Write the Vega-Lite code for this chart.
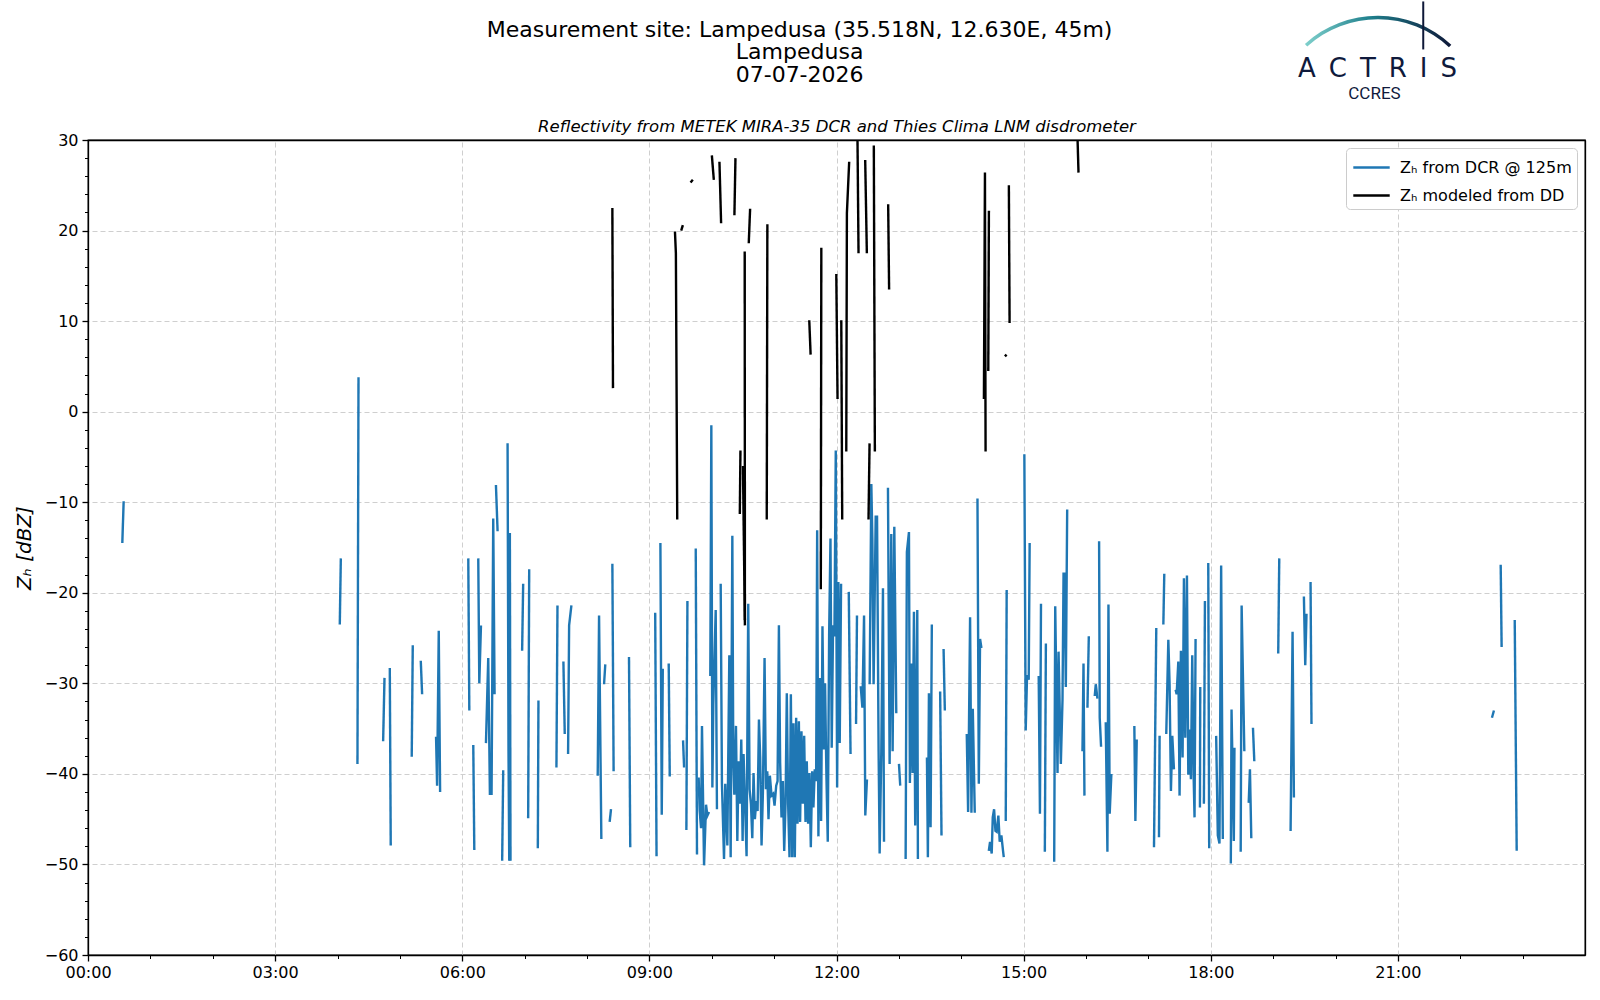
{
"$schema": "https://vega.github.io/schema/vega-lite/v6.json",
"width": 1497, "height": 815,
"autosize": {"type": "none"},
"padding": {"left": 88, "top": 140, "right": 15, "bottom": 45},
"background": "white",
"config": {
  "font": "DejaVu Sans",
  "view": {"stroke": "black", "strokeWidth": 1.3},
  "axis": {"labelFontSize": 16, "labelColor": "black", "labelFlush": false, "tickColor": "black", "domainColor": "black", "tickWidth": 1.3, "domainWidth": 1.3, "gridColor": "#cfcfcf", "gridDash": [5, 3], "gridWidth": 1, "titleColor": "black", "titleFontWeight": "normal"}
},
"title": {"text": ["Measurement site: Lampedusa (35.518N, 12.630E, 45m)", "Lampedusa", "07-07-2026"], "fontSize": 22, "fontWeight": "normal", "font": "DejaVu Sans", "color": "black", "lineHeight": 22.5, "anchor": "middle", "frame": "bounds", "offset": -86.5},
"datasets": {
"dcr": [
{"s":1,"t":33.0,"z":-14.5},{"s":1,"t":34.3,"z":-9.9},
{"s":2,"t":242.2,"z":-23.5},{"s":2,"t":243.2,"z":-16.2},
{"s":3,"t":259.2,"z":-38.9},{"s":3,"t":260.2,"z":3.8},
{"s":4,"t":283.9,"z":-36.4},{"s":4,"t":285.2,"z":-29.4},
{"s":5,"t":290.3,"z":-28.3},{"s":5,"t":291.2,"z":-47.9},
{"s":6,"t":311.4,"z":-38.1},{"s":6,"t":312.4,"z":-25.8},
{"s":7,"t":320.1,"z":-27.5},{"s":7,"t":321.4,"z":-31.2},
{"s":8,"t":334.8,"z":-35.9},{"s":8,"t":335.8,"z":-41.3},{"s":8,"t":337.4,"z":-24.2},{"s":8,"t":338.7,"z":-42.0},
{"s":9,"t":365.8,"z":-16.2},{"s":9,"t":366.8,"z":-33.0},
{"s":10,"t":370.6,"z":-36.8},{"s":10,"t":371.6,"z":-48.4},
{"s":11,"t":375.4,"z":-16.2},{"s":11,"t":376.4,"z":-30.0},{"s":11,"t":378.0,"z":-23.6},
{"s":12,"t":382.8,"z":-36.6},{"s":12,"t":385.0,"z":-27.2},{"s":12,"t":386.6,"z":-42.2},{"s":12,"t":388.2,"z":-42.2},{"s":12,"t":389.8,"z":-11.8},{"s":12,"t":391.1,"z":-31.2},
{"s":13,"t":392.4,"z":-8.1},{"s":13,"t":394.0,"z":-13.2},
{"s":14,"t":398.4,"z":-49.6},{"s":14,"t":399.4,"z":-39.6},
{"s":15,"t":403.6,"z":-3.5},{"s":15,"t":404.5,"z":-37.5},{"s":15,"t":405.2,"z":-49.6},
{"s":16,"t":405.8,"z":-13.4},{"s":16,"t":406.4,"z":-49.6},
{"s":17,"t":417.6,"z":-26.4},{"s":17,"t":418.6,"z":-19.0},
{"s":18,"t":423.4,"z":-44.9},{"s":18,"t":424.4,"z":-17.4},
{"s":19,"t":432.7,"z":-48.2},{"s":19,"t":433.3,"z":-31.9},
{"s":20,"t":450.6,"z":-39.3},{"s":20,"t":451.6,"z":-21.4},
{"s":21,"t":457.3,"z":-27.6},{"s":21,"t":458.6,"z":-35.6},
{"s":22,"t":461.8,"z":-37.8},{"s":22,"t":462.8,"z":-23.6},{"s":22,"t":465.0,"z":-21.4},
{"s":23,"t":490.3,"z":-40.2},{"s":23,"t":491.6,"z":-22.5},{"s":23,"t":493.8,"z":-47.2},
{"s":24,"t":496.4,"z":-30.1},{"s":24,"t":497.6,"z":-27.9},
{"s":25,"t":501.8,"z":-45.3},{"s":25,"t":503.1,"z":-43.9},
{"s":26,"t":504.4,"z":-16.8},{"s":26,"t":505.6,"z":-39.7},
{"s":27,"t":520.4,"z":-27.1},{"s":27,"t":521.6,"z":-48.1},
{"s":28,"t":545.6,"z":-22.2},{"s":28,"t":546.9,"z":-49.1},
{"s":29,"t":550.6,"z":-14.5},{"s":29,"t":551.9,"z":-44.5},{"s":29,"t":552.9,"z":-28.4},
{"s":30,"t":558.6,"z":-27.8},{"s":30,"t":559.6,"z":-40.3},
{"s":31,"t":572.4,"z":-36.3},{"s":31,"t":573.4,"z":-39.3},
{"s":32,"t":575.6,"z":-46.2},{"s":32,"t":576.6,"z":-20.9},
{"s":33,"t":584.6,"z":-15.1},{"s":33,"t":585.8,"z":-48.9},
{"s":34,"t":587.4,"z":-40.4},{"s":34,"t":588.4,"z":-44.1},{"s":34,"t":589.7,"z":-46.0},{"s":34,"t":590.6,"z":-34.7},{"s":34,"t":592.6,"z":-50.1},{"s":34,"t":594.5,"z":-43.4},{"s":34,"t":595.8,"z":-44.6},{"s":34,"t":597.4,"z":-44.2},
{"s":35,"t":598.6,"z":-29.2},{"s":35,"t":599.6,"z":-1.5},{"s":35,"t":600.6,"z":-41.5},{"s":35,"t":601.5,"z":-32.3},{"s":35,"t":603.8,"z":-21.9},{"s":35,"t":605.0,"z":-43.9},
{"s":36,"t":608.6,"z":-19.0},{"s":36,"t":609.8,"z":-41.1},{"s":36,"t":611.8,"z":-49.4},{"s":36,"t":613.0,"z":-41.1},{"s":36,"t":615.0,"z":-47.9},{"s":36,"t":616.9,"z":-26.9},{"s":36,"t":618.2,"z":-49.2},{"s":36,"t":619.8,"z":-13.7},{"s":36,"t":620.7,"z":-38.2},{"s":36,"t":621.7,"z":-42.3},{"s":36,"t":623.3,"z":-34.7},{"s":36,"t":624.6,"z":-47.4},{"s":36,"t":625.8,"z":-38.6},{"s":36,"t":627.1,"z":-43.3},{"s":36,"t":628.4,"z":-36.2},{"s":36,"t":629.7,"z":-47.4},{"s":36,"t":630.6,"z":-37.8},{"s":36,"t":632.2,"z":-43.9},{"s":36,"t":633.5,"z":-49.1},{"s":36,"t":635.1,"z":-21.2},{"s":36,"t":636.4,"z":-41.7},{"s":36,"t":637.7,"z":-43.3},{"s":36,"t":639.0,"z":-47.1},{"s":36,"t":640.2,"z":-39.9},{"s":36,"t":641.5,"z":-45.0},{"s":36,"t":642.8,"z":-43.0},{"s":36,"t":644.1,"z":-44.1},{"s":36,"t":645.4,"z":-34.0},{"s":36,"t":646.6,"z":-38.2},{"s":36,"t":647.9,"z":-47.9},{"s":36,"t":649.2,"z":-42.1},{"s":36,"t":650.8,"z":-27.2},{"s":36,"t":652.1,"z":-41.7},{"s":36,"t":653.4,"z":-39.7},{"s":36,"t":654.6,"z":-45.0},{"s":36,"t":655.9,"z":-40.2},{"s":36,"t":657.5,"z":-42.4},{"s":36,"t":659.1,"z":-42.2},{"s":36,"t":660.4,"z":-43.5},{"s":36,"t":662.0,"z":-41.3},{"s":36,"t":663.3,"z":-40.8},{"s":36,"t":664.6,"z":-23.6},{"s":36,"t":665.8,"z":-38.8},{"s":36,"t":667.1,"z":-44.8},{"s":36,"t":668.4,"z":-40.8},{"s":36,"t":669.7,"z":-48.5},{"s":36,"t":671.0,"z":-43.2},{"s":36,"t":672.2,"z":-31.1},{"s":36,"t":673.5,"z":-43.4},{"s":36,"t":674.8,"z":-49.2},{"s":36,"t":676.1,"z":-31.2},{"s":36,"t":677.4,"z":-49.2},{"s":36,"t":678.6,"z":-34.4},{"s":36,"t":679.9,"z":-49.2},{"s":36,"t":681.2,"z":-33.8},{"s":36,"t":682.5,"z":-45.5},{"s":36,"t":683.8,"z":-34.2},{"s":36,"t":685.0,"z":-45.3},{"s":36,"t":686.3,"z":-35.3},{"s":36,"t":687.6,"z":-43.3},{"s":36,"t":688.9,"z":-35.8},{"s":36,"t":690.2,"z":-45.3},{"s":36,"t":691.4,"z":-38.6},{"s":36,"t":692.7,"z":-45.5},{"s":36,"t":694.0,"z":-39.9},{"s":36,"t":695.3,"z":-48.1},{"s":36,"t":696.6,"z":-39.7},{"s":36,"t":697.8,"z":-43.7},{"s":36,"t":699.1,"z":-39.5},{"s":36,"t":700.4,"z":-40.8},{"s":36,"t":701.4,"z":-13.1},{"s":36,"t":702.6,"z":-46.9},{"s":36,"t":703.9,"z":-29.4},{"s":36,"t":705.2,"z":-45.2},{"s":36,"t":706.5,"z":-23.7},{"s":36,"t":707.8,"z":-37.3},{"s":36,"t":709.0,"z":-30.0},{"s":36,"t":710.3,"z":-40.2},{"s":36,"t":711.6,"z":-47.5},{"s":36,"t":712.9,"z":-24.7},{"s":36,"t":714.2,"z":-14.0},{"s":36,"t":715.4,"z":-37.1},{"s":36,"t":716.7,"z":-23.6},{"s":36,"t":718.0,"z":-24.8},{"s":36,"t":719.3,"z":-4.3},{"s":36,"t":720.6,"z":-41.5},{"s":36,"t":721.8,"z":-18.8},{"s":36,"t":723.1,"z":-36.6},{"s":36,"t":724.4,"z":-19.0},
{"s":37,"t":731.8,"z":-19.9},{"s":37,"t":733.5,"z":-37.8},
{"s":38,"t":738.8,"z":-34.5},{"s":38,"t":739.7,"z":-22.5},
{"s":39,"t":743.3,"z":-30.3},{"s":39,"t":744.9,"z":-32.7},{"s":39,"t":746.5,"z":-22.5},{"s":39,"t":747.7,"z":-44.6},{"s":39,"t":749.3,"z":-40.6},
{"s":40,"t":751.9,"z":-30.1},{"s":40,"t":753.5,"z":-8.0},{"s":40,"t":754.5,"z":-14.0},{"s":40,"t":755.7,"z":-30.1},{"s":40,"t":757.7,"z":-11.6},{"s":40,"t":759.0,"z":-11.6},{"s":40,"t":760.5,"z":-37.5},{"s":40,"t":761.5,"z":-48.8},{"s":40,"t":763.1,"z":-37.5},{"s":40,"t":764.7,"z":-19.5},{"s":40,"t":765.7,"z":-47.5},
{"s":41,"t":769.5,"z":-8.4},{"s":41,"t":771.1,"z":-38.9},{"s":41,"t":772.7,"z":-13.5},{"s":41,"t":774.0,"z":-37.5},{"s":41,"t":775.6,"z":-12.7},{"s":41,"t":777.5,"z":-33.3},
{"s":42,"t":780.1,"z":-38.9},{"s":42,"t":781.3,"z":-41.3},
{"s":43,"t":786.5,"z":-49.4},{"s":43,"t":787.7,"z":-15.5},{"s":43,"t":789.7,"z":-13.3},{"s":43,"t":790.6,"z":-41.0},{"s":43,"t":791.9,"z":-27.8},{"s":43,"t":793.2,"z":-39.9},{"s":43,"t":794.5,"z":-22.1},{"s":43,"t":795.7,"z":-45.7},{"s":43,"t":797.7,"z":-21.9},{"s":43,"t":798.3,"z":-49.4},
{"s":44,"t":807.0,"z":-38.2},{"s":44,"t":807.9,"z":-49.2},{"s":44,"t":808.9,"z":-31.1},{"s":44,"t":810.5,"z":-45.9},{"s":44,"t":811.7,"z":-23.5},
{"s":45,"t":819.7,"z":-30.9},{"s":45,"t":821.0,"z":-46.8},
{"s":46,"t":823.0,"z":-26.2},{"s":46,"t":824.2,"z":-33.0},
{"s":47,"t":845.3,"z":-35.6},{"s":47,"t":846.6,"z":-44.2},{"s":47,"t":848.5,"z":-22.7},{"s":47,"t":849.8,"z":-44.3},{"s":47,"t":851.1,"z":-32.8},{"s":47,"t":853.0,"z":-44.3},
{"s":48,"t":855.6,"z":-9.6},{"s":48,"t":856.9,"z":-41.1},{"s":48,"t":858.1,"z":-25.1},{"s":48,"t":859.4,"z":-26.1},
{"s":49,"t":866.5,"z":-48.5},{"s":49,"t":867.7,"z":-47.5},{"s":49,"t":869.3,"z":-48.8},{"s":49,"t":870.3,"z":-44.8},{"s":49,"t":871.6,"z":-43.9},{"s":49,"t":872.9,"z":-46.3},{"s":49,"t":874.1,"z":-46.4},{"s":49,"t":875.7,"z":-44.6},{"s":49,"t":877.0,"z":-47.5},{"s":49,"t":878.6,"z":-46.8},{"s":49,"t":880.2,"z":-48.5},{"s":49,"t":880.9,"z":-49.2},
{"s":50,"t":882.8,"z":-45.2},{"s":50,"t":883.7,"z":-19.7},
{"s":51,"t":900.7,"z":-4.7},{"s":51,"t":902.0,"z":-35.2},{"s":51,"t":903.3,"z":-29.1},{"s":51,"t":904.9,"z":-29.6},{"s":51,"t":905.8,"z":-14.5},
{"s":52,"t":914.5,"z":-29.2},{"s":52,"t":915.7,"z":-44.4},{"s":52,"t":916.7,"z":-21.2},
{"s":53,"t":920.4,"z":-48.6},{"s":53,"t":921.4,"z":-25.6},
{"s":54,"t":929.4,"z":-49.7},{"s":54,"t":930.4,"z":-21.5},{"s":54,"t":932.6,"z":-39.9},{"s":54,"t":933.6,"z":-26.5},{"s":54,"t":935.8,"z":-38.9},{"s":54,"t":937.4,"z":-31.8},{"s":54,"t":938.4,"z":-17.9},{"s":54,"t":939.3,"z":-17.9},{"s":54,"t":940.6,"z":-30.4},{"s":54,"t":941.9,"z":-10.8},
{"s":55,"t":956.6,"z":-37.5},{"s":55,"t":957.6,"z":-27.8},{"s":55,"t":958.5,"z":-42.4},
{"s":56,"t":961.4,"z":-32.7},{"s":56,"t":962.7,"z":-24.8},
{"s":57,"t":968.4,"z":-31.4},{"s":57,"t":969.4,"z":-30.1},{"s":57,"t":971.0,"z":-31.7},
{"s":58,"t":972.6,"z":-14.3},{"s":58,"t":973.2,"z":-33.8},{"s":58,"t":974.5,"z":-37.0},
{"s":59,"t":979.0,"z":-34.3},{"s":59,"t":980.6,"z":-48.6},{"s":59,"t":981.6,"z":-21.3},{"s":59,"t":982.8,"z":-44.4},{"s":59,"t":984.4,"z":-40.0},
{"s":60,"t":1006.5,"z":-34.7},{"s":60,"t":1007.5,"z":-45.2},{"s":60,"t":1008.8,"z":-36.2},
{"s":61,"t":1025.4,"z":-48.1},{"s":61,"t":1027.6,"z":-23.9},
{"s":62,"t":1030.2,"z":-47.0},{"s":62,"t":1030.8,"z":-35.8},
{"s":63,"t":1034.4,"z":-23.5},{"s":63,"t":1035.3,"z":-17.9},
{"s":64,"t":1037.2,"z":-35.6},{"s":64,"t":1039.2,"z":-25.2},{"s":64,"t":1040.4,"z":-30.1},{"s":64,"t":1041.7,"z":-41.9},{"s":64,"t":1043.0,"z":-35.8},{"s":64,"t":1044.6,"z":-39.5},
{"s":65,"t":1046.2,"z":-30.7},{"s":65,"t":1047.2,"z":-31.2},{"s":65,"t":1048.8,"z":-27.6},{"s":65,"t":1050.0,"z":-42.4},{"s":65,"t":1051.3,"z":-26.4},{"s":65,"t":1052.9,"z":-38.2},{"s":65,"t":1054.2,"z":-18.4},{"s":65,"t":1055.5,"z":-36.0},{"s":65,"t":1057.1,"z":-18.1},{"s":65,"t":1058.4,"z":-40.1},{"s":65,"t":1059.6,"z":-35.1},{"s":65,"t":1060.9,"z":-40.6},{"s":65,"t":1062.2,"z":-26.9},{"s":65,"t":1063.5,"z":-40.0},{"s":65,"t":1064.4,"z":-44.8},{"s":65,"t":1065.4,"z":-25.1},
{"s":66,"t":1069.6,"z":-43.7},{"s":66,"t":1069.9,"z":-30.4},
{"s":67,"t":1073.4,"z":-43.3},{"s":67,"t":1074.4,"z":-20.9},
{"s":68,"t":1077.6,"z":-16.7},{"s":68,"t":1078.5,"z":-48.2},
{"s":69,"t":1085.2,"z":-35.8},{"s":69,"t":1086.8,"z":-46.8},{"s":69,"t":1088.4,"z":-47.7},{"s":69,"t":1090.0,"z":-17.0},{"s":69,"t":1091.6,"z":-47.2},
{"s":70,"t":1099.3,"z":-49.9},{"s":70,"t":1100.0,"z":-32.9},{"s":70,"t":1102.2,"z":-47.4},{"s":70,"t":1102.8,"z":-37.1},
{"s":71,"t":1108.8,"z":-48.6},{"s":71,"t":1109.7,"z":-21.4},{"s":71,"t":1112.3,"z":-37.5},
{"s":72,"t":1116.5,"z":-43.2},{"s":72,"t":1117.7,"z":-39.5},{"s":72,"t":1119.0,"z":-47.1},
{"s":73,"t":1120.6,"z":-34.9},{"s":73,"t":1121.9,"z":-38.6},
{"s":74,"t":1144.9,"z":-26.7},{"s":74,"t":1145.9,"z":-16.2},
{"s":75,"t":1156.8,"z":-46.3},{"s":75,"t":1158.7,"z":-24.3},{"s":75,"t":1160.0,"z":-42.6},
{"s":76,"t":1169.6,"z":-20.4},{"s":76,"t":1170.9,"z":-28.0},{"s":76,"t":1172.1,"z":-22.3},
{"s":77,"t":1176.0,"z":-18.8},{"s":77,"t":1176.9,"z":-34.5},
{"s":78,"t":1350.5,"z":-33.8},{"s":78,"t":1352.4,"z":-33.0},
{"s":79,"t":1358.9,"z":-16.9},{"s":79,"t":1359.8,"z":-26.0},
{"s":80,"t":1372.4,"z":-23.0},{"s":80,"t":1374.3,"z":-48.5}
],
"dd": [
{"s":1,"t":504.4,"z":22.5},{"s":1,"t":505.0,"z":2.6},
{"s":2,"t":564.6,"z":19.9},{"s":2,"t":565.5,"z":17.5},{"s":2,"t":566.8,"z":-11.9},
{"s":3,"t":570.6,"z":20.0},{"s":3,"t":572.2,"z":20.6},
{"s":4,"t":579.6,"z":25.3},{"s":4,"t":581.8,"z":25.6},
{"s":5,"t":600.1,"z":28.3},{"s":5,"t":602.0,"z":25.6},
{"s":6,"t":607.4,"z":27.6},{"s":6,"t":609.0,"z":20.8},
{"s":7,"t":621.8,"z":21.7},{"s":7,"t":622.8,"z":28.0},
{"s":8,"t":635.6,"z":18.6},{"s":8,"t":636.9,"z":22.4},
{"s":9,"t":627.0,"z":-11.3},{"s":9,"t":627.6,"z":-4.3},
{"s":10,"t":630.0,"z":-6.0},{"s":10,"t":631.9,"z":-23.6},
{"s":11,"t":631.7,"z":17.7},{"s":11,"t":631.9,"z":-23.0},
{"s":12,"t":652.9,"z":-11.9},{"s":12,"t":653.5,"z":20.7},
{"s":13,"t":693.8,"z":10.1},{"s":13,"t":695.1,"z":6.3},
{"s":14,"t":704.9,"z":-19.6},{"s":14,"t":705.4,"z":18.1},
{"s":15,"t":719.8,"z":15.2},{"s":15,"t":721.0,"z":1.4},
{"s":16,"t":724.6,"z":10.1},{"s":16,"t":725.5,"z":-11.9},
{"s":17,"t":729.4,"z":-4.4},{"s":17,"t":730.0,"z":21.9},{"s":17,"t":732.2,"z":27.6},
{"s":18,"t":740.2,"z":30.0},{"s":18,"t":741.2,"z":17.5},
{"s":19,"t":747.6,"z":27.8},{"s":19,"t":749.2,"z":17.5},
{"s":20,"t":750.8,"z":-11.9},{"s":20,"t":751.8,"z":-3.5},
{"s":21,"t":755.9,"z":29.4},{"s":21,"t":756.9,"z":-4.4},
{"s":22,"t":769.7,"z":22.9},{"s":22,"t":770.6,"z":13.5},
{"s":23,"t":861.8,"z":1.4},{"s":23,"t":862.8,"z":26.4},{"s":23,"t":863.4,"z":-4.4},
{"s":24,"t":866.0,"z":4.5},{"s":24,"t":866.6,"z":22.2},
{"s":25,"t":882.0,"z":6.1},{"s":25,"t":883.6,"z":6.3},
{"s":26,"t":885.8,"z":25.0},{"s":26,"t":886.5,"z":9.8},
{"s":27,"t":951.9,"z":30.0},{"s":27,"t":952.8,"z":26.4}
]
},
"layer": [
{
  "data": {"name": "dcr"},
  "mark": {"type": "line", "strokeWidth": 2.4, "clip": true},
  "encoding": {
    "x": {"field": "t", "type": "quantitative", "scale": {"domain": [0, 1440], "nice": false, "zero": false},
          "axis": {"values": [0, 180, 360, 540, 720, 900, 1080, 1260], "labelExpr": "(datum.value < 600 ? '0' : '') + floor(datum.value / 60) + ':00'", "title": null, "grid": false, "tickSize": 6, "labelPadding": 3, "orient": "bottom"}},
    "y": {"field": "z", "type": "quantitative", "scale": {"domain": [-60, 30], "nice": false, "zero": false},
          "axis": {"values": [-60, -50, -40, -30, -20, -10, 0, 10, 20, 30], "title": "Zₕ [dBZ]", "titleFontSize": 20, "titleFontStyle": "italic", "titlePadding": 10, "grid": false, "tickSize": 6, "labelPadding": 4, "orient": "left"}},
    "detail": {"field": "s", "type": "nominal"},
    "color": {"datum": "Zₕ from DCR @ 125m", "type": "nominal",
              "scale": {"domain": ["Zₕ from DCR @ 125m", "Zₕ modeled from DD"], "range": ["#1f77b4", "#000000"]},
              "legend": {"orient": "top-right", "offset": 8, "title": null, "symbolType": "M-1.4,0H1.4", "symbolStrokeWidth": 2.4, "symbolSize": 676, "symbolOffset": 6, "labelFontSize": 16, "labelColor": "black", "labelLimit": 400, "padding": 5, "strokeColor": "#cccccc", "fillColor": "white", "cornerRadius": 4, "rowPadding": 5, "labelOffset": 14}}
  }
},
{
  "data": {"name": "dd"},
  "mark": {"type": "line", "strokeWidth": 2.4, "clip": true},
  "encoding": {
    "x": {"field": "t", "type": "quantitative",
          "axis": {"orient": "top", "title": "Reflectivity from METEK MIRA-35 DCR and Thies Clima LNM disdrometer", "titleFontSize": 16.5, "titleFontStyle": "italic", "titlePadding": 6, "labels": false, "ticks": false, "domain": true, "grid": true, "values": [180, 360, 540, 720, 900, 1080, 1260]}},
    "y": {"field": "z", "type": "quantitative",
          "axis": {"orient": "right", "title": null, "labels": false, "ticks": false, "domain": true, "grid": true, "values": [-50, -40, -30, -20, -10, 0, 10, 20]}},
    "detail": {"field": "s", "type": "nominal"},
    "color": {"datum": "Zₕ modeled from DD", "type": "nominal"}
  }
},
{
  "data": {"values": [{}]},
  "mark": {"type": "text", "text": "A\u2002C\u2002T\u2002R\u2002I\u2002S", "font": "DejaVu Sans", "fontSize": 26, "color": "#0f1a3c", "align": "center", "baseline": "middle", "clip": false},
  "encoding": {
    "x": {"datum": 1240.4, "type": "quantitative",
          "axis": {"orient": "bottom", "values": [60, 120, 180, 240, 300, 360, 420, 480, 540, 600, 660, 720, 780, 840, 900, 960, 1020, 1080, 1140, 1200, 1260, 1320, 1380], "labels": false, "tickSize": 3.5, "tickWidth": 1, "grid": false, "domain": false, "title": null}},
    "y": {"datum": 37.8, "type": "quantitative",
          "axis": {"orient": "left", "values": [-58, -56, -54, -52, -48, -46, -44, -42, -38, -36, -34, -32, -28, -26, -24, -22, -18, -16, -14, -12, -8, -6, -4, -2, 2, 4, 6, 8, 12, 14, 16, 18, 22, 24, 26, 28], "labels": false, "tickSize": 3.5, "tickWidth": 1, "grid": false, "domain": false, "title": null}}
  }
},
{
  "data": {"values": [{}]},
  "mark": {"type": "text", "text": "CCRES", "font": "Roboto", "fontSize": 17, "color": "#0f1a3c", "align": "center", "baseline": "middle", "clip": false},
  "encoding": {
    "x": {"datum": 1237.5, "type": "quantitative", "axis": null},
    "y": {"datum": 35.1, "type": "quantitative", "axis": null}
  }
},
{
  "data": {"values": [{}]},
  "mark": {"type": "arc", "radius": 108, "radius2": 104.5, "theta": -0.74, "theta2": 0.75, "clip": false,
           "fill": {"gradient": "linear", "x1": 0, "y1": 0, "x2": 1, "y2": 0, "stops": [{"offset": 0, "color": "#7fd0cc"}, {"offset": 0.45, "color": "#1f7f8c"}, {"offset": 1, "color": "#0e1838"}]}},
  "encoding": {
    "x": {"datum": 1240.6, "type": "quantitative", "axis": null},
    "y": {"datum": 31.8, "type": "quantitative", "axis": null}
  }
},
{
  "data": {"values": [{}]},
  "mark": {"type": "rule", "strokeWidth": 2, "color": "#0e1838", "clip": false},
  "encoding": {
    "x": {"datum": 1284.4, "type": "quantitative", "axis": null},
    "y": {"datum": 45.3, "type": "quantitative", "axis": null},
    "y2": {"datum": 40.0}
  }
}
],
"resolve": {"axis": {"x": "independent", "y": "independent"}}
}
